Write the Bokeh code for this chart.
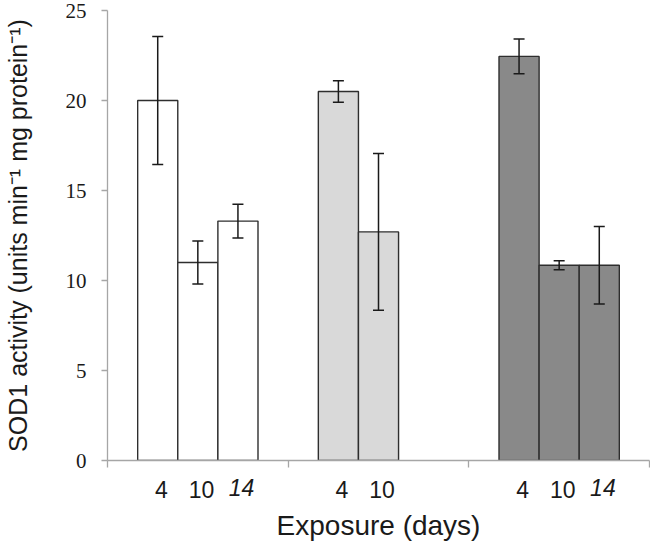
from bokeh.plotting import figure
from bokeh.models import (ColumnDataSource, FixedTicker, Whisker, TeeHead, LinearAxis)
from bokeh.embed import file_html
from bokeh.resources import INLINE

# ---- data ----
group_index = [0, 0, 0, 1, 1, 2, 2, 2]
slot_index = [0, 1, 2, 0, 1, 0, 1, 2]
day_labels = ["4", "10", "14", "4", "10", "4", "10", "14"]
day_italic = [False, False, True, False, False, False, False, True]
sod1_mean = [20.0, 11.0, 13.3, 20.5, 12.7, 22.45, 10.85, 10.85]
sod1_err = [3.55, 1.2, 0.94, 0.6, 4.35, 0.97, 0.25, 2.15]
group_colors = ["#FFFFFF", "#D9D9D9", "#898989"]
y_ticks = [0, 5, 10, 15, 20, 25]
group_bounds = [0, 1, 2, 3]

BAR_W = 0.222
LABEL_SHIFT = 0.02  # day labels sit slightly right of the bar centres

xs = [g + 0.5 + (s - 1) * BAR_W for g, s in zip(group_index, slot_index)]
fills = [group_colors[g] for g in group_index]
upper = [m + e for m, e in zip(sod1_mean, sod1_err)]
lower = [m - e for m, e in zip(sod1_mean, sod1_err)]

src = ColumnDataSource(dict(x=xs, top=sod1_mean, fill=fills, upper=upper, lower=lower))

p = figure(width=650, height=543, x_range=(0, 3), y_range=(0, 25),
           output_backend="svg", toolbar_location=None,
           min_border_left=103, min_border_right=1, min_border_top=10,
           min_border_bottom=74)
p.outline_line_color = None
p.xgrid.grid_line_color = None
p.ygrid.grid_line_color = None
p.background_fill_color = "white"

p.vbar(x="x", top="top", bottom=0, width=BAR_W, fill_color="fill",
       line_color="#2e2e2e", line_width=1.4, source=src)

wh = Whisker(source=src, base="x", upper="upper", lower="lower",
             line_color="#1a1a1a", line_width=1.5, level="overlay",
             upper_head=TeeHead(size=11, line_color="#1a1a1a", line_width=1.5),
             lower_head=TeeHead(size=11, line_color="#1a1a1a", line_width=1.5))
p.add_layout(wh)

axis_color = "#A6A6A6"
txt_color = "#1a1a1a"

# y axis
ya = p.yaxis[0]
ya.ticker = FixedTicker(ticks=y_ticks)
ya.minor_tick_line_color = None
ya.major_tick_in = 0
ya.major_tick_out = 6
ya.axis_line_color = axis_color
ya.axis_line_width = 1.3
ya.major_tick_line_color = axis_color
ya.major_tick_line_width = 1.3
ya.major_label_text_font = "Liberation Serif"
ya.major_label_text_font_size = "21px"
ya.major_label_text_color = txt_color
ya.major_label_standoff = 15
ya.axis_label = "SOD1 activity (units min\u207b\u00b9 mg protein\u207b\u00b9)"
ya.axis_label_text_font = "Liberation Sans"
ya.axis_label_text_font_size = "25px"
ya.axis_label_text_font_style = "normal"
ya.axis_label_text_color = txt_color
ya.axis_label_standoff = 31

# label positions
up_x = [xv + LABEL_SHIFT for xv, it in zip(xs, day_italic) if not it]
up_t = [t for t, it in zip(day_labels, day_italic) if not it]
it_x = [xv + LABEL_SHIFT for xv, it in zip(xs, day_italic) if it]
it_t = [t for t, it in zip(day_labels, day_italic) if it]

# x axis: boundary ticks (minor), upright day labels (major, no tick marks)
xa = p.xaxis[0]
xa.ticker = FixedTicker(ticks=up_x, minor_ticks=group_bounds)
xa.major_label_overrides = {xv: t for xv, t in zip(up_x, up_t)}
xa.major_tick_line_color = None
xa.major_tick_in = 0
xa.major_tick_out = 0
xa.minor_tick_in = 0
xa.minor_tick_out = 7
xa.minor_tick_line_color = axis_color
xa.minor_tick_line_width = 1.3
xa.axis_line_color = axis_color
xa.axis_line_width = 1.3
xa.major_label_text_font = "Liberation Sans"
xa.major_label_text_font_size = "23px"
xa.major_label_text_color = txt_color
xa.major_label_standoff = 13

# second x axis (stacked below), pulled up so its italic labels line up
# with the first axis' labels; it also carries the axis title
xb = LinearAxis()
xb.ticker = FixedTicker(ticks=it_x)
xb.major_label_overrides = {xv: t for xv, t in zip(it_x, it_t)}
xb.axis_line_color = None
xb.major_tick_line_color = None
xb.minor_tick_line_color = None
xb.major_tick_in = 0
xb.major_tick_out = 0
xb.major_label_text_font = "Liberation Sans"
xb.major_label_text_font_size = "23px"
xb.major_label_text_font_style = "italic"
xb.major_label_text_color = txt_color
xb.major_label_standoff = -22
xb.axis_label = "Exposure (days)"
xb.axis_label_text_font = "Liberation Sans"
xb.axis_label_text_font_size = "28px"
xb.axis_label_text_font_style = "normal"
xb.axis_label_text_color = txt_color
xb.axis_label_standoff = 11
p.add_layout(xb, "below")

open("out.html", "w").write(file_html(p, INLINE))
